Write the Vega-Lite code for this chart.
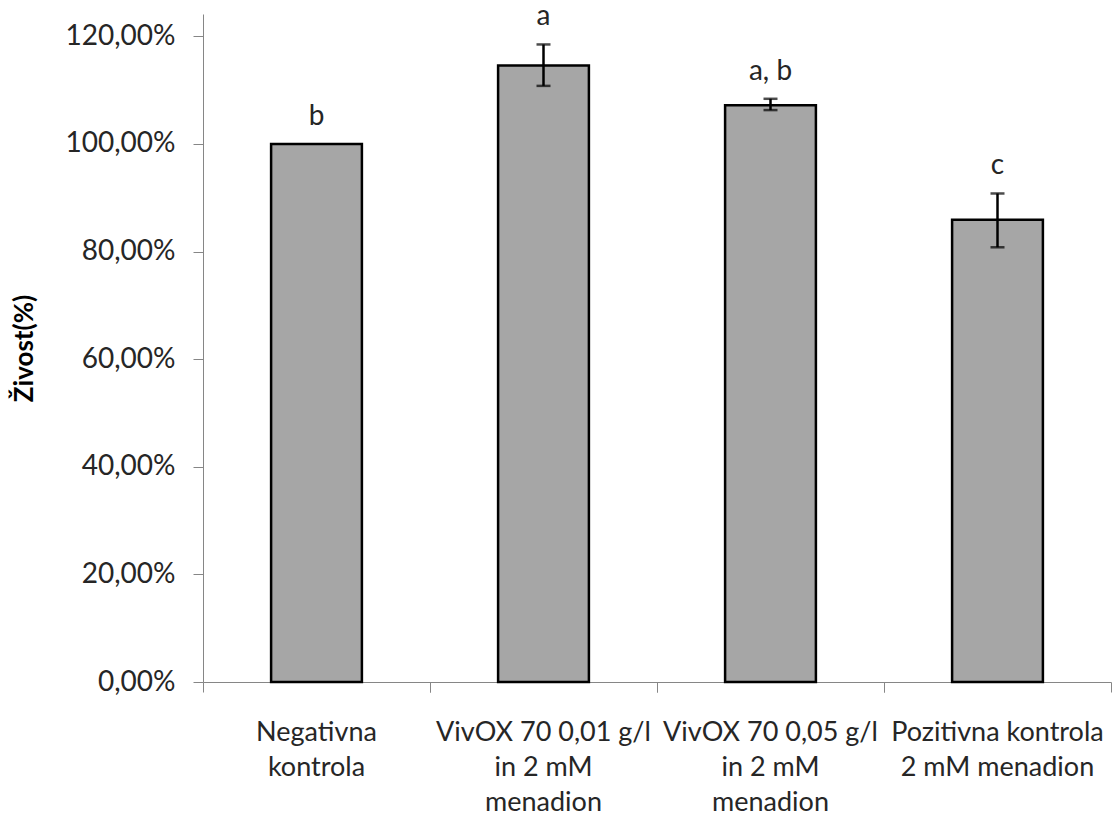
{
  "$schema": "https://vega.github.io/schema/vega-lite/v6.json",
  "autosize": {"type": "none"},
  "width": 908,
  "height": 668,
  "padding": {"left": 203, "top": 14, "right": 2, "bottom": 135},
  "background": "white",
  "config": {
    "view": {"stroke": null},
    "font": "Lato",
    "axis": {"domainColor": "#868686", "tickColor": "#868686", "domainWidth": 1, "tickWidth": 1, "grid": false, "labelColor": "#262626", "labelFont": "Lato", "labelFontSize": 28, "titleFont": "Lato"}
  },
  "data": {
    "values": [
      {"label": "Negativna|kontrola", "value": 1.0, "lo": null, "hi": null, "top": 1.0, "letter": "b"},
      {"label": "VivOX 70 0,01 g/l|in 2 mM|menadion", "value": 1.146, "lo": 1.108, "hi": 1.185, "top": 1.185, "letter": "a"},
      {"label": "VivOX 70 0,05 g/l|in 2 mM|menadion", "value": 1.072, "lo": 1.063, "hi": 1.084, "top": 1.084, "letter": "a, b"},
      {"label": "Pozitivna kontrola|2 mM menadion", "value": 0.859, "lo": 0.808, "hi": 0.908, "top": 0.908, "letter": "c"}
    ]
  },
  "encoding": {
    "y": {
      "type": "quantitative",
      "scale": {"domain": [0, 1.2416], "nice": false, "zero": true}
    }
  },
  "layer": [
    {
      "mark": {"type": "bar", "fill": "#A6A6A6", "stroke": "#000000", "strokeWidth": 2.5},
      "encoding": {
        "x": {
          "field": "label", "type": "nominal", "sort": null,
          "scale": {"paddingInner": 0.6, "paddingOuter": 0.3},
          "axis": {
            "orient": "bottom", "title": null, "labelAngle": 0, "ticks": false,
            "labelFontSize": 27,
            "labelExpr": "split(datum.value, '|')", "labelLineHeight": 35,
            "labelPadding": 37, "labelOverlap": false, "labelLimit": 0, "labelBound": false
          }
        },
        "y": {
          "field": "value", "type": "quantitative",
          "axis": {
            "title": "Živost(%)", "titleFontSize": 26, "titleFontWeight": "bold", "titleColor": "#000000",
            "values": [0, 0.2, 0.4, 0.6, 0.8, 1.0, 1.2],
            "labelExpr": "replace(format(datum.value, '.2%'), '.', ',')",
            "tickSize": 10, "labelPadding": 18, "titlePadding": 28
          }
        }
      }
    },
    {
      "mark": {"type": "rule", "color": "#000000", "strokeWidth": 2.5},
      "encoding": {
        "x": {
          "field": "label", "type": "nominal", "sort": null,
          "axis": {"orient": "bottom", "title": null, "labels": false, "domain": false, "ticks": true, "tickSize": 10, "bandPosition": -0.75}
        },
        "y": {"field": "lo", "type": "quantitative"},
        "y2": {"field": "hi"}
      }
    },
    {
      "mark": {"type": "tick", "color": "#000000", "size": 14, "thickness": 2.5, "orient": "horizontal"},
      "encoding": {
        "x": {"field": "label", "type": "nominal", "sort": null, "axis": null},
        "y": {"field": "lo", "type": "quantitative"}
      }
    },
    {
      "mark": {"type": "tick", "color": "#000000", "size": 14, "thickness": 2.5, "orient": "horizontal"},
      "encoding": {
        "x": {"field": "label", "type": "nominal", "sort": null, "axis": null},
        "y": {"field": "hi", "type": "quantitative"}
      }
    },
    {
      "mark": {"type": "text", "fontSize": 28, "color": "#262626", "dy": -19, "baseline": "alphabetic"},
      "encoding": {
        "x": {
          "field": "label", "type": "nominal", "sort": null,
          "axis": {"orient": "bottom", "title": null, "labels": false, "domain": false, "ticks": true, "tickSize": 10, "bandPosition": 1.75}
        },
        "y": {"field": "top", "type": "quantitative"},
        "text": {"field": "letter"}
      }
    }
  ],
  "resolve": {"axis": {"x": "independent"}}
}
